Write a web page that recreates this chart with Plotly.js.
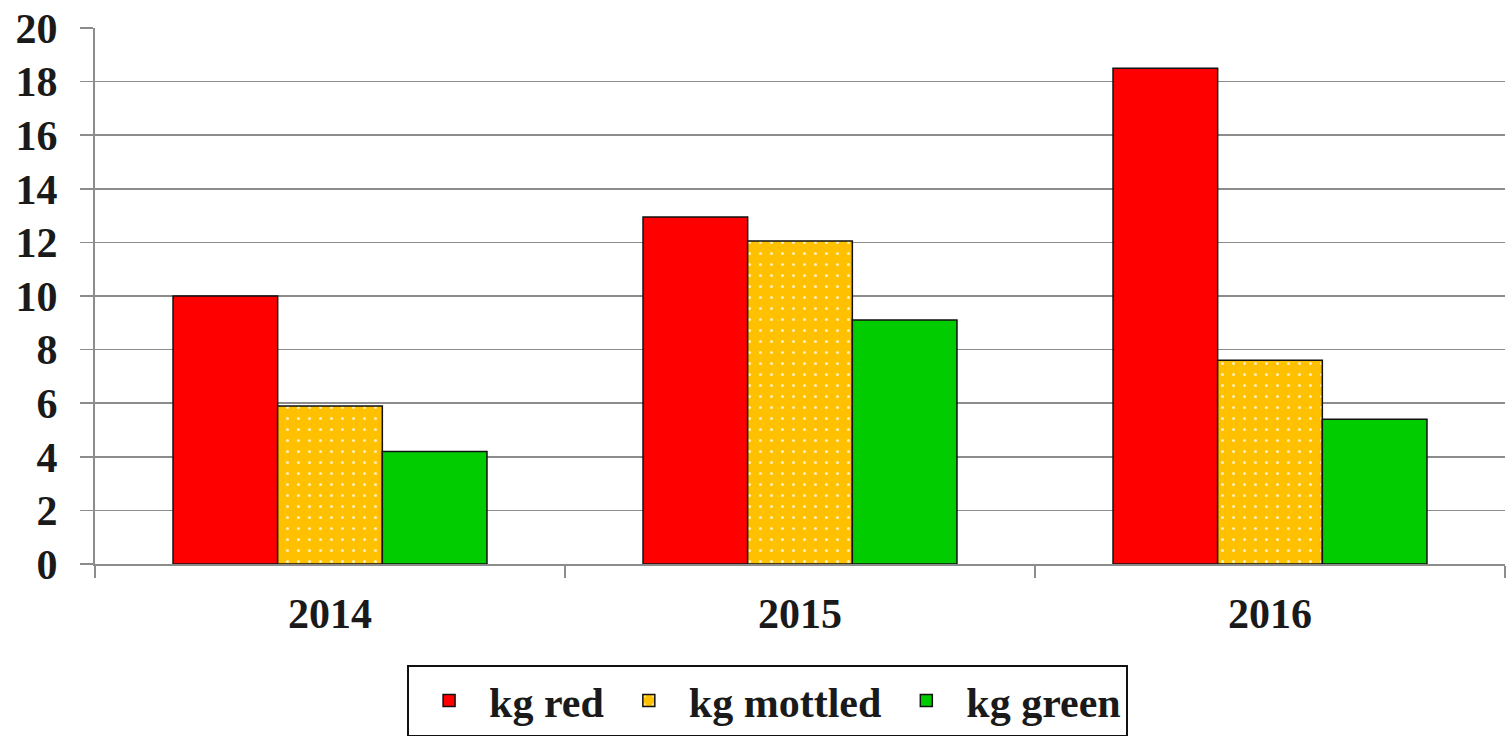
<!DOCTYPE html>
<html><head><meta charset="utf-8">
<script src="https://cdn.plot.ly/plotly-3.0.1.min.js"></script>
<style>html,body{margin:0;padding:0;background:#fff;}#chart{width:1508px;height:736px;}</style>
</head><body><div id="chart"></div>
<script>
const years = ['2014', '2015', '2016'];
const kgRed = [10.0, 12.95, 18.5];
const kgMottled = [5.9, 12.05, 7.6];
const kgGreen = [4.2, 9.1, 5.4];
const seriesNames = ['kg red', 'kg mottled', 'kg green'];
const yTicks = [0, 2, 4, 6, 8, 10, 12, 14, 16, 18, 20];

const font = {family: '"Liberation Serif", "Times New Roman", serif', color: '#1a1a1a'};
const line = {color: '#111', width: 1.5};
const traces = [
  {type: 'bar', name: seriesNames[0], x: years, y: kgRed, marker: {color: '#FF0000', line: line}},
  {type: 'bar', name: seriesNames[1], x: years, y: kgMottled, marker: {color: '#FFC000', line: line,
    pattern: {shape: '.', fgcolor: '#FFEFB8', bgcolor: '#FFC000', size: 11, solidity: 0.06, fillmode: 'replace'}}},
  {type: 'bar', name: seriesNames[2], x: years, y: kgGreen, marker: {color: '#00CC00', line: line}}
];
const layout = {
  width: 1508, height: 736,
  margin: {l: 95, r: 3, t: 28, b: 172, autoexpand: false},
  paper_bgcolor: '#fff', plot_bgcolor: '#fff',
  barmode: 'group', bargap: 0.332, bargroupgap: 0,
  font: {family: font.family, color: font.color},
  xaxis: {
    type: 'category', showgrid: false, showline: true, linecolor: '#8c8c8c', linewidth: 2,
    ticks: 'outside', tickson: 'boundaries', ticklen: 12, tickcolor: '#8c8c8c', tickwidth: 1.5,
    tickfont: {family: font.family, size: 42, color: '#1a1a1a', weight: 'bold'},
    ticklabelstandoff: 12, automargin: false
  },
  yaxis: {
    range: [0, 20], tickvals: yTicks, showgrid: true, gridcolor: '#8c8c8c', gridwidth: 1.5,
    showline: true, linecolor: '#8c8c8c', linewidth: 2, zeroline: false,
    ticks: 'outside', ticklen: 13, tickcolor: '#8c8c8c', tickwidth: 1.5,
    tickfont: {family: font.family, size: 42, color: '#1a1a1a', weight: 'bold'},
    ticklabelstandoff: 14, automargin: false
  },
  showlegend: true,
  legend: {
    orientation: 'h', x: 0.509, xref: 'container', xanchor: 'center',
    y: 0.097, yref: 'container', yanchor: 'top',
    bordercolor: '#111', borderwidth: 2, bgcolor: '#fff',
    font: {family: font.family, size: 42, color: '#1a1a1a', weight: 'bold'},
    itemwidth: 70, traceorder: 'normal'
  }
};
Plotly.newPlot('chart', traces, layout, {displayModeBar: false, staticPlot: true});
</script></body></html>
